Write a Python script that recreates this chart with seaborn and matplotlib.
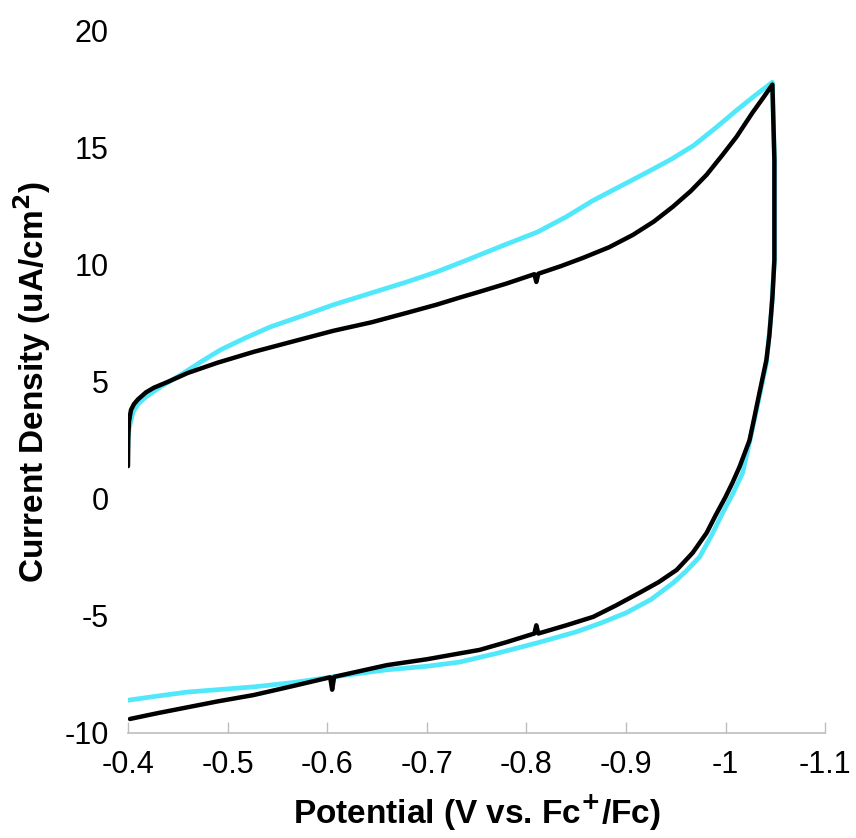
import numpy as np
import pandas as pd
import matplotlib
matplotlib.use("Agg")
import matplotlib.pyplot as plt
import seaborn as sns

# ---- data ----
black_potential = [-0.4000, -0.4003, -0.4010, -0.4030, -0.4060, -0.4100, -0.4180, -0.4260, -0.4400,
                   -0.4600, -0.4900, -0.5260, -0.5650, -0.6060, -0.6450, -0.6800, -0.7100,
                   -0.7330, -0.7530, -0.7800, -0.8080, -0.8100, -0.8120, -0.8350, -0.8570,
                   -0.8830, -0.9070, -0.9280, -0.9470, -0.9650, -0.9810, -0.9970, -1.0110,
                   -1.0270, -1.0380, -1.0470,
                   -1.0490, -1.0490, -1.0470, -1.0440, -1.0410, -1.0340, -1.0290, -1.0240,
                   -1.0140, -1.0070, -1.0000, -0.9900, -0.9810, -0.9670, -0.9510, -0.9330,
                   -0.9140, -0.8900, -0.8670, -0.8400, -0.8120, -0.8100, -0.8080, -0.7800,
                   -0.7530, -0.7330, -0.7000, -0.6600, -0.6070, -0.6050, -0.6030, -0.5650,
                   -0.5260, -0.4900, -0.4600, -0.4300, -0.4020]
black_current = [1.4, 2.6, 3.3, 3.8, 4.05, 4.25, 4.55, 4.75, 5.0,
                 5.38, 5.82, 6.28, 6.72, 7.18, 7.55, 7.95, 8.3,
                 8.6, 8.85, 9.2, 9.6, 9.27, 9.62, 9.95, 10.3,
                 10.75, 11.28, 11.85, 12.48, 13.15, 13.85, 14.7, 15.47,
                 16.5, 17.15, 17.7,
                 14.5, 10.2, 8.6, 7.0, 5.94, 4.53, 3.5, 2.5,
                 1.37, 0.7, 0.09, -0.7, -1.45, -2.3, -3.03, -3.55,
                 -4.0, -4.55, -5.04, -5.4, -5.75, -5.4, -5.75, -6.12,
                 -6.45, -6.6, -6.85, -7.1, -7.6, -8.15, -7.62, -8.0,
                 -8.38, -8.65, -8.9, -9.15, -9.4]

cyan_potential = [-0.3995, -0.4000, -0.4010, -0.4050, -0.4100, -0.4180, -0.4330, -0.4530,
                  -0.4730, -0.4930, -0.5180, -0.5430, -0.5750, -0.6060, -0.6430, -0.6800,
                  -0.7100, -0.7400, -0.7750, -0.8110, -0.8400, -0.8670, -0.8940, -0.9210,
                  -0.9450, -0.9680, -0.9900, -1.0110, -1.0300, -1.0470,
                  -1.0490, -1.0490, -1.0460, -1.0410, -1.0340, -1.0250, -1.0170, -1.0070,
                  -0.9970, -0.9860, -0.9740, -0.9600, -0.9470, -0.9250, -0.9000, -0.8750,
                  -0.8500, -0.8110, -0.7700, -0.7330, -0.7000, -0.6600, -0.6060, -0.5650,
                  -0.5260, -0.4900, -0.4600, -0.4300, -0.4000]
cyan_current = [1.6, 2.4, 3.0, 3.7, 4.05, 4.36, 4.8, 5.3,
                5.85, 6.37, 6.88, 7.35, 7.82, 8.29, 8.78, 9.27,
                9.7, 10.2, 10.8, 11.4, 12.05, 12.75, 13.35, 13.95,
                14.5, 15.1, 15.85, 16.6, 17.25, 17.8,
                14.5, 10.2, 8.0, 5.8, 4.4, 2.6, 1.1, 0.2,
                -0.6, -1.55, -2.48, -3.1, -3.6, -4.3, -4.87, -5.3,
                -5.68, -6.15, -6.6, -6.97, -7.15, -7.3, -7.6, -7.85,
                -8.03, -8.15, -8.25, -8.42, -8.6]

scan_labels = ["scan 2", "scan 1"]
scan_colors = ["#50E8FA", "#000000"]

x_ticks = [-0.4, -0.5, -0.6, -0.7, -0.8, -0.9, -1.0, -1.1]
x_tick_labels = ["-0.4", "-0.5", "-0.6", "-0.7", "-0.8", "-0.9", "-1", "-1.1"]
y_ticks = [-10, -5, 0, 5, 10, 15, 20]
y_tick_labels = ["-10", "-5", "0", "5", "10", "15", "20"]

df = pd.concat([
    pd.DataFrame({"potential": cyan_potential, "current": cyan_current,
                  "scan": scan_labels[0]}),
    pd.DataFrame({"potential": black_potential, "current": black_current,
                  "scan": scan_labels[1]}),
], ignore_index=True)

sns.set_theme(style="white")
plt.rcParams["font.family"] = ["Liberation Sans", "DejaVu Sans"]
plt.rcParams["axes.unicode_minus"] = False
plt.rcParams["text.color"] = "black"
plt.rcParams["axes.labelcolor"] = "black"

fig = plt.figure(figsize=(8.56, 8.38), dpi=100)
ax = fig.add_axes([0.1495, 0.1253, 0.8145, 0.838])

sns.lineplot(data=df, x="potential", y="current", hue="scan", units="scan",
             estimator=None, sort=False, palette=dict(zip(scan_labels, scan_colors)),
             hue_order=scan_labels, linewidth=3.4, legend=False, ax=ax)
ax.lines[1].set_linewidth(3.2)
for ln in ax.lines:
    ln.set_solid_joinstyle("round")
    ln.set_solid_capstyle("round")

ax.set_xlim(-0.4, -1.1)
ax.set_ylim(-10, 20)
ax.set_xticks(x_ticks)
ax.set_xticklabels(x_tick_labels)
ax.set_yticks(y_ticks)
ax.set_yticklabels(y_tick_labels)

for s in ["top", "right", "left"]:
    ax.spines[s].set_visible(False)
ax.spines["bottom"].set_color("#bdbdbd")
ax.spines["bottom"].set_linewidth(1.2)
ax.spines["bottom"].set_zorder(0)

ax.tick_params(axis="x", direction="in", length=8, width=1.0, color="#bdbdbd",
               pad=12, labelsize=22, labelcolor="black", bottom=True)
ax.tick_params(axis="y", length=0, pad=14, labelsize=22, labelcolor="black")

ax.set_xlabel(r"Potential (V vs. Fc$^{\mathbf{+}}$/Fc)", fontsize=24, fontweight="bold",
              color="black", labelpad=10)
ax.set_ylabel(r"Current Density (uA/cm$^{\mathbf{2}}$)", fontsize=24, fontweight="bold",
              color="black", labelpad=8)
ax.grid(False)

fig.savefig("out.png", dpi=100)
